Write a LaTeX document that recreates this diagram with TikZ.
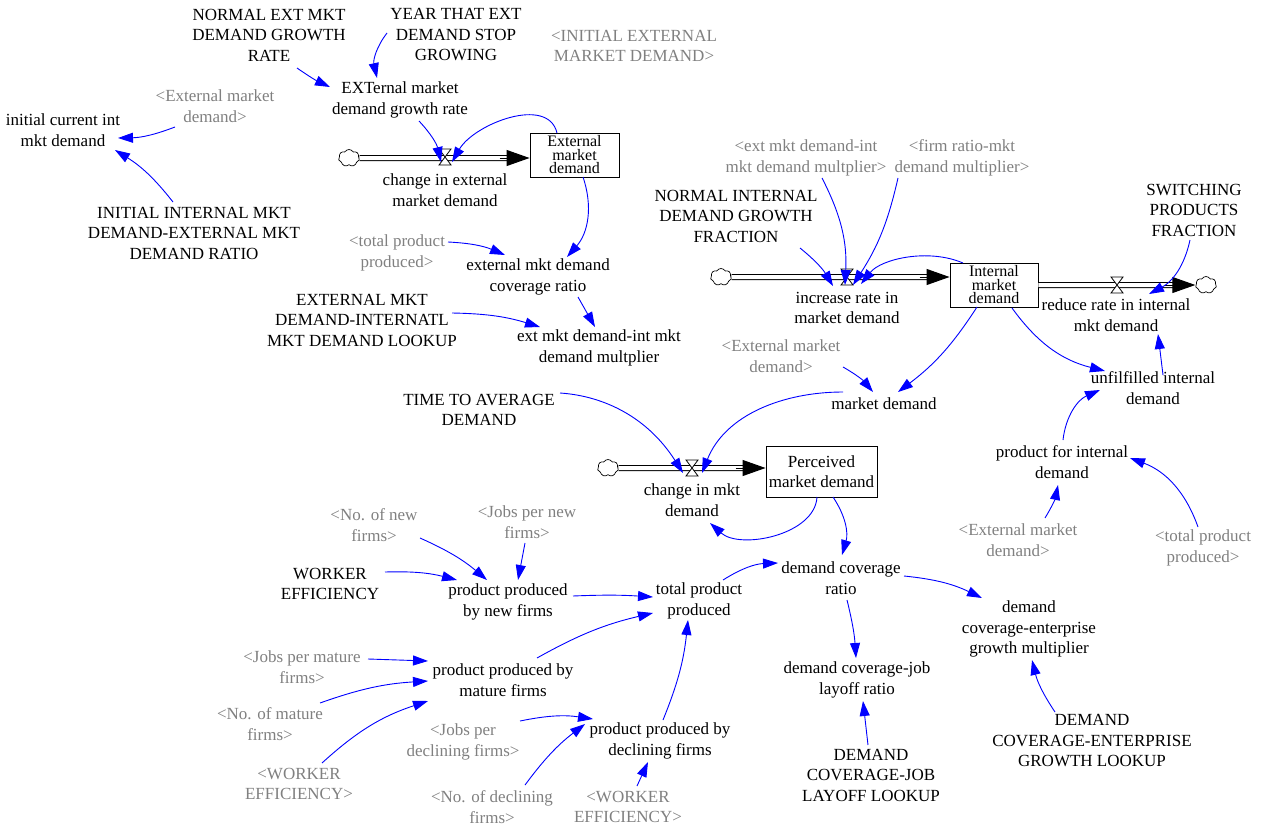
\documentclass[tikz,border=0pt]{standalone}
\usepackage{fontspec}
\setmainfont{Liberation Serif}
\usetikzlibrary{arrows.meta,shapes.symbols}
\definecolor{linkblue}{RGB}{0,0,255}
\definecolor{shadowgray}{RGB}{128,128,128}
\begin{document}
\begin{tikzpicture}[x=1pt,y=1pt,
  every node/.style={font=\fontsize{17}{20.5}\selectfont, align=center, inner sep=1pt},
  var/.style={text=black},
  ghost/.style={text=shadowgray},
  stock/.style={draw, line width=0.9pt, fill=white, minimum width=88pt, minimum height=44pt, inner sep=0pt},
  tightlabel/.style={font=\fontsize{16}{13.5}\selectfont},
  cloudy/.style={cloud, cloud puffs=7, cloud puff arc=120, aspect=1.25, draw, line width=0.7pt,
    minimum width=21pt, minimum height=17pt, inner sep=0pt, fill=white},
  link/.style={draw=linkblue, line width=0.9pt, -{Triangle[length=15pt,width=10pt]}},
  pipe/.style={draw=black, line width=1pt, double=white, double distance=4pt},
  pipehead/.style={-{Triangle[length=23pt,width=16pt]}, line width=1pt, black},
  valveshape/.pic={\draw[line width=0.8pt, fill=white] (-6,-8) -- (6,-8) -- (-6,8) -- (6,8) -- cycle;},
]
\useasboundingbox (0,0) rectangle (1261,-827);

% ---------- external market sector ----------
\node[var] (nemgr) at (269,-35) {NORMAL EXT MKT\\DEMAND GROWTH\\RATE};
\node[var] (ytes) at (456,-35) {YEAR THAT EXT\\DEMAND STOP\\GROWING};
\node[ghost] (iemd) at (634,-46) {<INITIAL EXTERNAL\\MARKET DEMAND>};
\node[var] (egr) at (400,-100) {EXTernal market\\demand growth rate};
\node[ghost] (emdA) at (215,-106) {<External market\\demand>};
\node[var] (icid) at (63,-130) {initial current int\\mkt demand};
\node[var] (iimd) at (194,-233) {INITIAL INTERNAL MKT\\DEMAND-EXTERNAL MKT\\DEMAND RATIO};
\node[stock, minimum width=89pt, tightlabel] (extstock) at (574.5,-155) {External\\market\\demand};
\node[cloudy] (cloudA) at (349,-158) {};
\coordinate (valveA) at (445,-157);
\node[var] (cied) at (445,-190) {change in external\\market demand};
\node[ghost] (tppA) at (397,-253) {<total product\\produced>};
\node[var] (emdcr) at (538,-277) {external mkt demand\\coverage ratio};
\node[var] (emdlook) at (362,-320) {EXTERNAL MKT\\DEMAND-INTERNATL\\MKT DEMAND LOOKUP};
\node[var] (emdm) at (599,-348) {ext mkt demand-int mkt\\demand multplier};

% ---------- internal market sector ----------
\node[ghost] (emdmB) at (806,-158) {<ext mkt demand-int\\mkt demand multplier>};
\node[ghost] (frm) at (962,-158) {<firm ratio-mkt\\demand multiplier>};
\node[var] (nidgf) at (736,-216) {NORMAL INTERNAL\\DEMAND GROWTH\\FRACTION};
\node[var] (spf) at (1194,-210) {SWITCHING\\PRODUCTS\\FRACTION};
\node[cloudy] (cloudB) at (721,-277) {};
\coordinate (valveB) at (847,-277);
\node[stock, tightlabel] (intstock) at (994,-285) {Internal\\market\\demand};
\coordinate (valveC) at (1117,-285);
\node[cloudy] (cloudC) at (1206,-285) {};
\node[var] (irmd) at (847,-308) {increase rate in\\market demand};
\node[var] (rrimd) at (1116,-315) {reduce rate in internal\\mkt demand};
\node[ghost] (emdB) at (781,-356) {<External market\\demand>};
\node[var] (md) at (884,-404) {market demand};
\node[var] (uid) at (1153,-388) {unfilfilled internal\\demand};
\node[var] (pid) at (1062,-462) {product for internal\\demand};
\node[ghost] (emdC) at (1018,-540) {<External market\\demand>};
\node[ghost] (tppB) at (1203,-548) {<total product\\produced>};

% ---------- perceived demand and production ----------
\node[var] (tad) at (479,-410) {TIME TO AVERAGE\\DEMAND};
\node[cloudy] (cloudD) at (608,-468) {};
\coordinate (valveD) at (692,-468);
\node[stock, minimum width=111pt, minimum height=51pt] (pmd) at (821.5,-471.5) {Perceived\\market demand};
\node[var] (cmd) at (692,-500) {change in mkt\\demand};
\node[ghost] (nnf) at (374,-525) {<No. of new\\firms>};
\node[ghost] (jpnf) at (527,-522) {<Jobs per new\\firms>};
\node[var] (we) at (330,-584) {WORKER\\EFFICIENCY};
\node[var] (ppnf) at (508,-602) {product produced\\by new firms};
\node[var] (tp) at (699,-601) {total product\\produced};
\node[var] (dcr) at (841,-578) {demand coverage\\ratio};
\node[var] (dcegm) at (1029,-629) {demand\\coverage-enterprise\\growth multiplier};
\node[ghost] (jpmf) at (302,-667) {<Jobs per mature\\firms>};
\node[var] (ppmf) at (503,-680) {product produced by\\mature firms};
\node[var] (dcjlr) at (857,-680) {demand coverage-job\\layoff ratio};
\node[ghost] (nmf) at (270,-724) {<No. of mature\\firms>};
\node[ghost] (jpdf) at (463,-742) {<Jobs per\\declining firms>};
\node[var] (ppdf) at (660,-741) {product produced by\\declining firms};
\node[var] (dcegl) at (1092,-741) {DEMAND\\COVERAGE-ENTERPRISE\\GROWTH LOOKUP};
\node[ghost] (weB) at (299,-784) {<WORKER\\EFFICIENCY>};
\node[var] (dcjll) at (871,-775) {DEMAND\\COVERAGE-JOB\\LAYOFF LOOKUP};
\node[ghost] (ndf) at (492,-807) {<No. of declining\\firms>};
\node[ghost] (weC) at (628,-807) {<WORKER\\EFFICIENCY>};

% ---------- material flows (pipes, heads, valves) ----------
\coordinate (inA) at (cloudA -| extstock.west);
\coordinate (inB) at (cloudB -| intstock.west);
\coordinate (outC) at (intstock.east |- cloudC);
\coordinate (inD) at (cloudD -| pmd.west);
\draw[pipe] (cloudA) -- ([xshift=-18pt]inA);
\draw[pipehead] ([xshift=-30pt]inA) -- (inA);
\draw[pipe] (cloudB) -- ([xshift=-18pt]inB);
\draw[pipehead] ([xshift=-30pt]inB) -- (inB);
\draw[pipe] (outC) -- ([xshift=-18pt]cloudC.west);
\draw[pipehead] ([xshift=-30pt]cloudC.west) -- (cloudC.west);
\draw[pipe] (cloudD) -- ([xshift=-18pt]inD);
\draw[pipehead] ([xshift=-30pt]inD) -- (inD);
\pic at (valveA) {valveshape};
\pic at (valveB) {valveshape};
\pic at (valveC) {valveshape};
\pic at (valveD) {valveshape};

% ---------- information links ----------
\draw[link] ([shift={(28,-33)}]nemgr.center) to[bend right=5] ([shift={(-70,13)}]egr.center);
\draw[link] ([shift={(-69,2)}]ytes.center) to[bend right=25] ([shift={(-23,22)}]egr.center);
\draw[link] ([shift={(19,-21)}]egr.center) to[bend left=15] ([shift={(-4,-5)}]valveA);
\draw[link] ([shift={(-17.5,22)}]extstock.center) .. controls +(-9,38) and +(22,38) .. ([shift={(7,-5)}]valveA);
\draw[link] ([shift={(-40,-21)}]emdA.center) to[bend left=10] ([shift={(55,-8)}]icid.center);
\draw[link] ([shift={(-21,31)}]iimd.center) to[bend right=10] ([shift={(52,-20)}]icid.center);
\draw[link] ([shift={(8.5,-22)}]extstock.center) to[bend left=30] ([shift={(29,20)}]emdcr.center);
\draw[link] ([shift={(51,11)}]tppA.center) to[bend left=10] ([shift={(-33,22)}]emdcr.center);
\draw[link] ([shift={(40,-20)}]emdcr.center) -- ([shift={(-4,21)}]emdm.center);
\draw[link] ([shift={(90,7)}]emdlook.center) to[bend left=8] ([shift={(-59,21)}]emdm.center);

\draw[link] ([shift={(64,-32)}]nidgf.center) to[bend left=10] ([shift={(-14,-9)}]valveB);
\draw[link] ([shift={(16,-20)}]emdmB.center) to[bend left=15] ([shift={(-2,-8)}]valveB);
\draw[link] ([shift={(-64,-20)}]frm.center) to[bend left=10] ([shift={(6,-8)}]valveB);
\draw[link] ([shift={(-31,22)}]intstock.center) .. controls +(-35,15) and +(20,25) .. ([shift={(14,-7)}]valveB);
\draw[link] ([shift={(-4,-30)}]spf.center) to[bend left=25] ([shift={(33,21)}]rrimd.center);
\draw[link] ([shift={(-17,-22)}]intstock.center) to[bend left=10] ([shift={(14,12)}]md.center);
\draw[link] ([shift={(18,-23)}]intstock.center) to[bend right=20] ([shift={(-48,17)}]uid.center);
\draw[link] ([shift={(62,-11)}]emdB.center) to[bend left=10] ([shift={(-11,12)}]md.center);
\draw[link] ([shift={(1,22)}]pid.center) to[bend left=30] ([shift={(-53,-2)}]uid.center);
\draw[link] ([shift={(10,13)}]uid.center) -- ([shift={(42,-19)}]rrimd.center);
\draw[link] ([shift={(27,22)}]emdC.center) to[bend right=10] ([shift={(-4,-23)}]pid.center);
\draw[link] ([shift={(-5,21)}]tppB.center) to[bend right=25] ([shift={(68,4)}]pid.center);

\draw[link] ([shift={(81,17)}]tad.center) .. controls +(45,-3) and +(-35,55) .. ([shift={(-9,-5)}]valveD);
\draw[link] ([shift={(-41,12)}]md.center) .. controls +(-60,0) and +(23,58) .. ([shift={(10,-5)}]valveD);
\draw[link] ([shift={(-4.5,-25.5)}]pmd.center) .. controls +(-2,-38) and +(30,-27) .. ([shift={(18,-23)}]cmd.center);
\draw[link] ([shift={(11.5,-25.5)}]pmd.center) to[bend left=25] ([shift={(1,23)}]dcr.center);

\draw[link] ([shift={(46,-13)}]nnf.center) to[bend left=8] ([shift={(-21,22)}]ppnf.center);
\draw[link] ([shift={(-2,-21)}]jpnf.center) -- ([shift={(10,22)}]ppnf.center);
\draw[link] ([shift={(55,12)}]we.center) to[bend left=8] ([shift={(-51,22)}]ppnf.center);
\draw[link] ([shift={(65,6)}]ppnf.center) to[bend left=3] ([shift={(-46,4)}]tp.center);
\draw[link] ([shift={(34,22)}]ppmf.center) to[bend left=8] ([shift={(-46,-12)}]tp.center);
\draw[link] ([shift={(3,21)}]ppdf.center) to[bend right=8] ([shift={(-11,-19)}]tp.center);
\draw[link] ([shift={(24,21)}]tp.center) to[bend left=15] ([shift={(-63,15)}]dcr.center);
\draw[link] ([shift={(63,2)}]dcr.center) to[bend left=10] ([shift={(-47,31)}]dcegm.center);
\draw[link] ([shift={(6,-22)}]dcr.center) to[bend left=5] ([shift={(-1,22)}]dcjlr.center);
\draw[link] ([shift={(-37,29)}]dcegl.center) to[bend left=10] ([shift={(3,-31)}]dcegm.center);
\draw[link] ([shift={(-3,30)}]dcjll.center) -- ([shift={(6,-21)}]dcjlr.center);
\draw[link] ([shift={(66,8)}]jpmf.center) -- ([shift={(-75,19)}]ppmf.center);
\draw[link] ([shift={(50,21)}]nmf.center) to[bend left=8] ([shift={(-75,-1)}]ppmf.center);
\draw[link] ([shift={(23,21)}]weB.center) to[bend left=12] ([shift={(-75,-21)}]ppmf.center);
\draw[link] ([shift={(57,21)}]jpdf.center) to[bend left=10] ([shift={(-67,22)}]ppdf.center);
\draw[link] ([shift={(33,22)}]ndf.center) to[bend left=8] ([shift={(-75,17)}]ppdf.center);
\draw[link] ([shift={(9,21)}]weC.center) -- ([shift={(-12,-21)}]ppdf.center);
\end{tikzpicture}
\end{document}
